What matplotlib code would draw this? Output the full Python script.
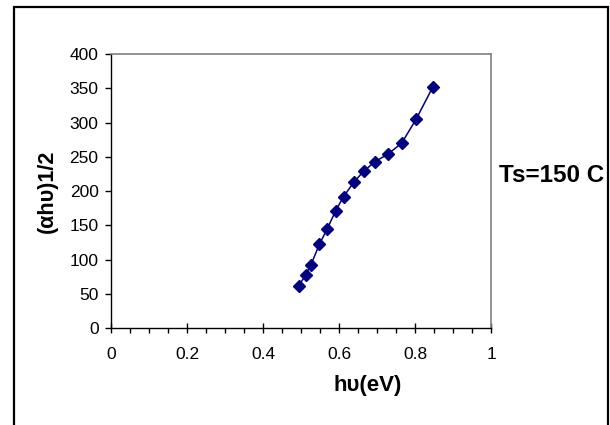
import matplotlib.pyplot as plt
from matplotlib.patches import Rectangle
from matplotlib.ticker import MultipleLocator

plt.rcParams['font.family'] = ['Liberation Sans', 'DejaVu Sans']

# photon energy (eV) and (alpha h nu)^1/2
hv = [0.494, 0.513, 0.526, 0.548, 0.569, 0.591, 0.612, 0.639, 0.665,
      0.695, 0.729, 0.765, 0.803, 0.847]
ahv = [62, 78, 92, 122, 145, 171, 192, 213, 229, 243, 254, 270, 305, 352]
xticks = [0, 0.2, 0.4, 0.6, 0.8, 1.0]
xticklabels = ['0', '0.2', '0.4', '0.6', '0.8', '1']

fig = plt.figure(figsize=(6.1, 4.25), dpi=100)
ax = fig.add_axes([0.182, 0.228, 0.623, 0.645])

ax.plot(hv, ahv, color='#000080', lw=1.1, marker='D', ms=6.3,
        markerfacecolor='#000080', markeredgecolor='#000080')

ax.set_xlim(0, 1)
ax.set_ylim(0, 400)
ax.set_xticks(xticks)
ax.set_xticklabels(xticklabels)
ax.xaxis.set_minor_locator(MultipleLocator(0.05))
ax.yaxis.set_major_locator(MultipleLocator(50))

ax.tick_params(axis='x', which='major', direction='inout', length=7, width=1,
               labelsize=12.5, pad=10)
ax.tick_params(axis='x', which='minor', direction='out', length=3.5, width=1)
ax.tick_params(axis='y', which='major', direction='out', length=4, width=1,
               labelsize=12.5, pad=5)

for s in ['top', 'right']:
    ax.spines[s].set_color('#808080')
    ax.spines[s].set_linewidth(1.2)
for s in ['left', 'bottom']:
    ax.spines[s].set_color('black')
    ax.spines[s].set_linewidth(1)

ax.set_xlabel('h\u03c5(eV)', fontsize=16, fontweight='bold')
ax.xaxis.set_label_coords(0.676, -0.172)
ax.set_ylabel('(\u03b1h\u03c5)1/2', fontsize=15.5, fontweight='bold', labelpad=8)

fig.text(0.818, 0.586, 'Ts=150 C', fontsize=17.5, fontweight='bold',
         ha='left', va='center')

# outer chart-area border (bottom edge falls outside the image)
fig.add_artist(Rectangle((0.023, -0.2), 0.974, 1.184, transform=fig.transFigure,
                         fill=False, edgecolor='black', lw=1.6, clip_on=False))

fig.savefig('out.png', dpi=100)
